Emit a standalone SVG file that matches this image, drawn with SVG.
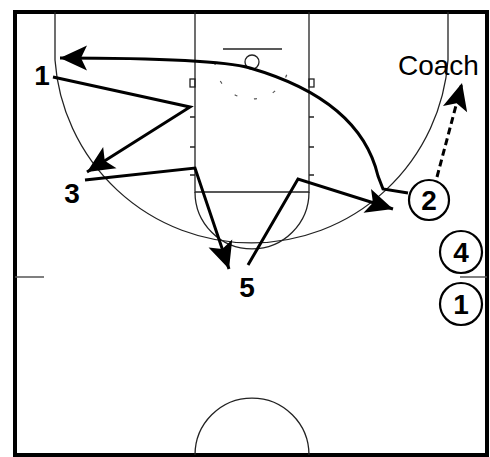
<svg xmlns="http://www.w3.org/2000/svg" width="490" height="457" viewBox="0 0 490 457">
  <style>
    .court { fill: none; stroke: #222; stroke-width: 1.3; }
    .tick { fill: none; stroke: #555; stroke-width: 1.6; }
    .move { fill: none; stroke: #000; stroke-width: 3; stroke-linejoin: miter; }
    .pass { fill: none; stroke: #000; stroke-width: 3; stroke-dasharray: 7 4; }
    .num { font-family: "Liberation Sans", Arial, sans-serif; font-weight: bold; font-size: 28px; fill: #000; text-anchor: middle; }
    .label { font-family: "Liberation Sans", Arial, sans-serif; font-size: 28px; fill: #000; }
    .ring { fill: #fff; stroke: #000; stroke-width: 2.2; }
  </style>
  <defs>
    <marker id="arrow" viewBox="-30 -15 32 30" refX="0" refY="0" markerWidth="32" markerHeight="30" markerUnits="userSpaceOnUse" orient="auto">
      <path d="M0,0 L-27,-12.5 L-21,0 L-27,12.5 Z" fill="#000"/>
    </marker>
  </defs>

  <rect width="490" height="457" fill="#fff"/>

  <!-- half court -->
  <g id="court">
    <rect x="15" y="12" width="472" height="443" fill="none" stroke="#000" stroke-width="4"/>
    <!-- three point line -->
    <path class="court" d="M55,12 V60 A197,197 0 0 0 448,60 V12"/>
    <!-- lane -->
    <path class="court" d="M195,12 V192 H309 V12"/>
    <path class="court" d="M195,192 A57,57 0 0 0 309,192"/>
    <!-- lane blocks and hash marks -->
    <rect class="court" x="190" y="79" width="5" height="8"/>
    <rect class="court" x="309" y="79" width="5" height="8"/>
    <path class="court" d="M190,117 H195 M190,147 H195 M190,175 H195 M309,117 H314 M309,147 H314 M309,175 H314"/>
    <!-- backboard, rim, restricted area -->
    <path class="court" d="M223,49 H282"/>
    <circle class="court" cx="252" cy="62" r="7"/>
    <path d="M215,62 A37,37 0 0 0 289,62" fill="none" stroke="#555" stroke-width="1.2" stroke-dasharray="3 17"/>
    <!-- coaching box ticks -->
    <path class="tick" d="M15,277 H44 M460,277 H487"/>
    <!-- center circle -->
    <path class="court" d="M195,455 A57,57 0 0 1 309,455"/>
  </g>

  <!-- movement and pass lines -->
  <g id="connectors">
    <path class="move" d="M408,193 L383,189 L378,176 Q360,100 250,68 Q215,58 60,58" marker-end="url(#arrow)"/>
    <path class="move" d="M53,77 L190,107 L87,172" marker-end="url(#arrow)"/>
    <path class="move" d="M85,180 L195,168 L229,269" marker-end="url(#arrow)"/>
    <path class="move" d="M248,265 L298,179 L393,209" marker-end="url(#arrow)"/>
    <path class="pass" d="M437,177 L462,83" marker-end="url(#arrow)"/>
  </g>

  <!-- players -->
  <g id="player-1">
    <text class="num" x="42" y="85">1</text>
  </g>
  <g id="player-3">
    <text class="num" x="72" y="203">3</text>
  </g>
  <g id="player-5">
    <text class="num" x="247" y="297">5</text>
  </g>
  <g id="player-2">
    <circle class="ring" cx="429" cy="200" r="20"/>
    <text class="num" x="429" y="210">2</text>
  </g>
  <g id="player-4">
    <circle class="ring" cx="461" cy="252" r="21"/>
    <text class="num" x="461" y="262">4</text>
  </g>
  <g id="player-1b">
    <circle class="ring" cx="461" cy="304" r="21"/>
    <text class="num" x="461" y="314">1</text>
  </g>
  <g id="coach">
    <text class="label" x="398" y="75">Coach</text>
  </g>
</svg>
